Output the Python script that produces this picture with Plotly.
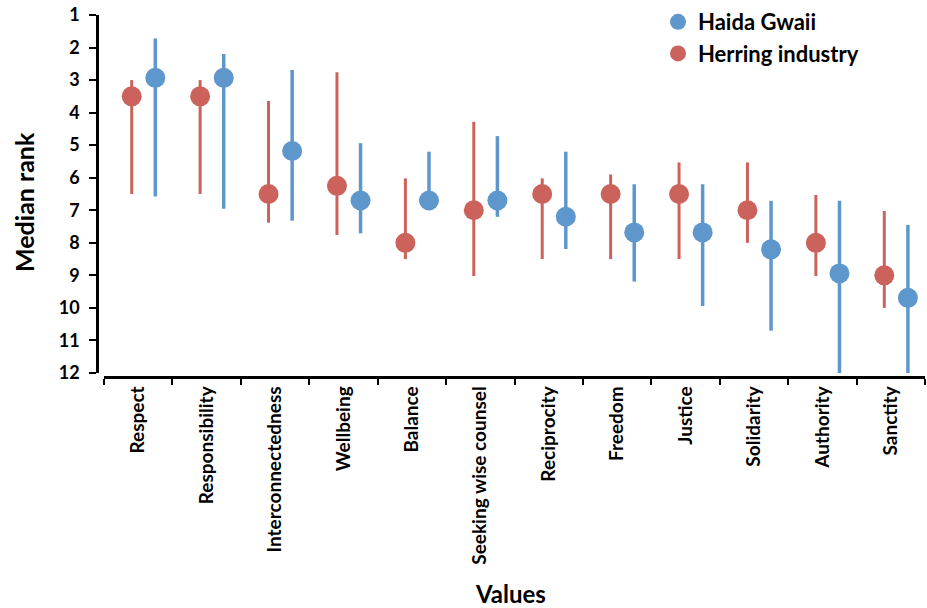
import plotly.graph_objects as go

categories = ["Respect", "Responsibility", "Interconnectedness", "Wellbeing", "Balance",
              "Seeking wise counsel", "Reciprocity", "Freedom", "Justice", "Solidarity",
              "Authority", "Sanctity"]

# Herring industry (red): median, upper whisker (lower rank number), lower whisker
herring_median = [3.5, 3.5, 6.5, 6.25, 8.0, 7.0, 6.5, 6.5, 6.5, 7.0, 8.0, 9.0]
herring_top = [3.0, 3.0, 3.64, 2.76, 6.02, 4.28, 6.02, 5.9, 5.53, 5.53, 6.53, 7.02]
herring_bottom = [6.5, 6.5, 7.38, 7.76, 8.5, 9.02, 8.5, 8.5, 8.5, 8.0, 9.02, 10.0]

# Haida Gwaii (blue)
haida_median = [2.93, 2.93, 5.18, 6.7, 6.7, 6.7, 7.2, 7.68, 7.68, 8.2, 8.94, 9.69]
haida_top = [1.72, 2.2, 2.69, 4.94, 5.2, 4.72, 5.2, 6.2, 6.2, 6.71, 6.71, 7.45]
haida_bottom = [6.58, 6.95, 7.32, 7.71, 6.7, 7.2, 8.19, 9.19, 9.94, 10.7, 12.0, 12.0]

y_ticks = list(range(1, 13))

BLUE = "#5E97CC"
RED = "#CC625C"

idx = list(range(len(categories)))
x_red = [i - 0.095 for i in idx]
x_blue = [i + 0.25 for i in idx]

fig = go.Figure()
fig.add_trace(go.Scatter(
    x=x_blue, y=haida_median, mode="markers", name="Haida Gwaii",
    marker=dict(color=BLUE, size=20, line=dict(width=0)),
    error_y=dict(type="data", symmetric=False,
                 array=[b - m for b, m in zip(haida_bottom, haida_median)],
                 arrayminus=[m - t for m, t in zip(haida_median, haida_top)],
                 color=BLUE, thickness=3.5, width=0),
))
fig.add_trace(go.Scatter(
    x=x_red, y=herring_median, mode="markers", name="Herring industry",
    marker=dict(color=RED, size=20, line=dict(width=0)),
    error_y=dict(type="data", symmetric=False,
                 array=[b - m for b, m in zip(herring_bottom, herring_median)],
                 arrayminus=[m - t for m, t in zip(herring_median, herring_top)],
                 color=RED, thickness=3, width=0),
))

FONT = "Lato, 'Open Sans', sans-serif"
L, R, T, B = 97, 2, 15, 231
PW, PH = 927 - L - R, 608 - T - B


def px_x(px):
    return (px - L) / PW


def px_y(py):
    return (608 - B - py) / PH


fig.update_layout(
    width=927, height=608,
    margin=dict(l=L, r=R, t=T, b=B, autoexpand=False),
    plot_bgcolor="white", paper_bgcolor="white",
    font=dict(family=FONT, color="black"),
    showlegend=True,
    legend=dict(x=px_x(658), y=px_y(1), xanchor="left", yanchor="top",
                font=dict(size=22, family=FONT, weight="bold"),
                bgcolor="rgba(0,0,0,0)", tracegroupgap=0, itemwidth=30),
    xaxis=dict(
        domain=[px_x(104), 1], range=[-0.5, 11.5],
        tickmode="array", tickvals=idx, ticktext=categories,
        tickangle=-90, ticks="", showgrid=False, zeroline=False,
        showline=True, linecolor="black", linewidth=2.5,
        tickfont=dict(size=19, family=FONT, weight="bold"),
        minor=dict(ticks="outside", tick0=-0.5, dtick=1, ticklen=6,
                   tickwidth=2, tickcolor="black", showgrid=False),
        anchor="free", position=0, automargin=False,
    ),
    yaxis=dict(
        domain=[px_y(373), 1], range=[12, 1],
        tickmode="array", tickvals=y_ticks,
        ticks="outside", ticklen=7, tickwidth=2, tickcolor="black",
        showgrid=False, zeroline=False,
        showline=True, linecolor="black", linewidth=2.5,
        tickfont=dict(size=18, family=FONT, weight="bold"),
        ticklabelstandoff=6,
        anchor="free", position=0, automargin=False,
    ),
    annotations=[
        dict(text="<b>Median rank</b>", xref="paper", yref="paper",
             x=px_x(24), y=px_y(202), textangle=-90, showarrow=False,
             xanchor="center", yanchor="middle",
             font=dict(size=25, family=FONT, color="black")),
        dict(text="<b>Values</b>", xref="paper", yref="paper",
             x=px_x(510), y=px_y(593), showarrow=False,
             xanchor="center", yanchor="middle",
             font=dict(size=24, family=FONT, color="black")),
    ],
)

fig.write_html("out.html", config={"displayModeBar": False},
               post_script="document.body.style.margin='0';document.body.style.overflow='hidden';")
